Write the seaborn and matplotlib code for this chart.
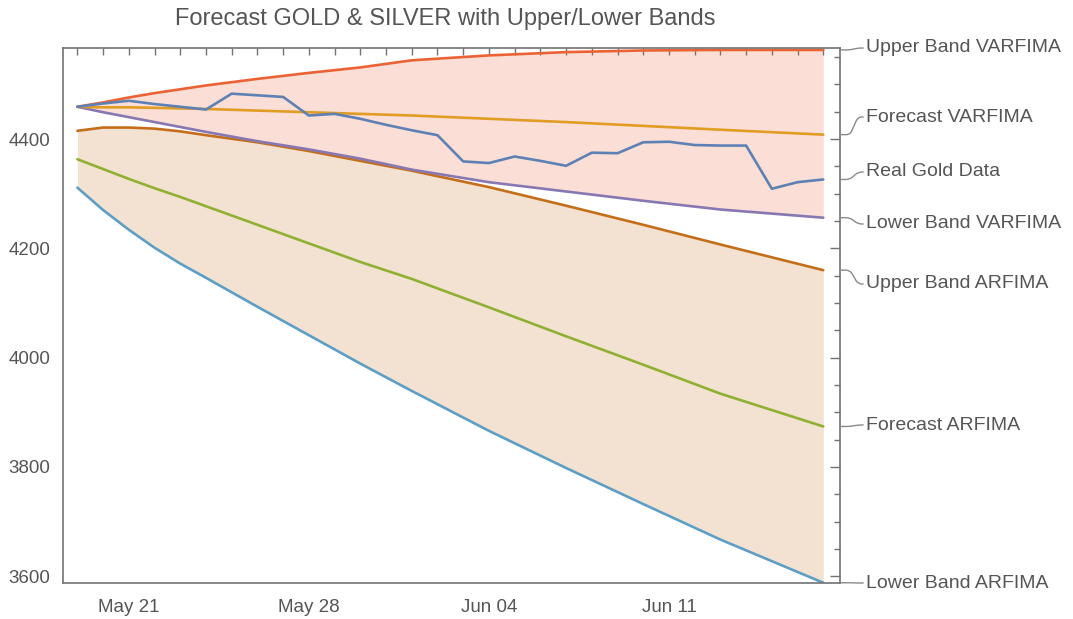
import numpy as np
import pandas as pd
import matplotlib
matplotlib.use("Agg")
import matplotlib.pyplot as plt
import matplotlib.dates as mdates
from matplotlib.ticker import MultipleLocator
import seaborn as sns

sns.set_theme(style="white")
plt.rcParams["font.family"] = ["Liberation Sans", "DejaVu Sans"]

# ---- data -------------------------------------------------------------
start = pd.Timestamp("2025-05-19")

gold_dates = pd.date_range(start, periods=30, freq="D")
gold_price = [4459, 4465, 4470, 4464, 4459, 4454, 4483, 4480, 4477, 4443,
              4446, 4437, 4426, 4416, 4407, 4359, 4356, 4368, 4360, 4351,
              4375, 4374, 4394, 4395, 4389, 4388, 4388, 4309, 4321, 4326]

model_day = [0, 1, 2, 3, 4, 5, 7, 9, 11, 13, 16, 19, 22, 25, 29]
upper_varfima = [4459, 4467, 4476, 4484, 4491, 4498, 4510, 4521, 4531, 4544,
                 4553, 4559, 4562, 4563, 4563]
forecast_varfima = [4459, 4458, 4458, 4457, 4456, 4455, 4452, 4449, 4446, 4443,
                    4437, 4431, 4424, 4417, 4408]
lower_varfima = [4459, 4449, 4440, 4431, 4422, 4413, 4396, 4381, 4364, 4344,
                 4321, 4304, 4287, 4271, 4256]
upper_arfima = [4415, 4421, 4421, 4419, 4414, 4407, 4394, 4378, 4360, 4342,
                4312, 4278, 4243, 4207, 4160]
forecast_arfima = [4363, 4345, 4327, 4310, 4294, 4277, 4243, 4209, 4175, 4144,
                   4092, 4039, 3987, 3934, 3874]
lower_arfima = [4311, 4270, 4234, 4201, 4172, 4146, 4093, 4041, 3989, 3939,
                3866, 3798, 3732, 3667, 3588]

model_dates = start + pd.to_timedelta(model_day, unit="D")

series = [
    ("Upper Band VARFIMA", model_dates, upper_varfima, "#EB6235"),
    ("Forecast VARFIMA", model_dates, forecast_varfima, "#E19C24"),
    ("Real Gold Data", gold_dates, gold_price, "#5E81B5"),
    ("Lower Band VARFIMA", model_dates, lower_varfima, "#8778B3"),
    ("Upper Band ARFIMA", model_dates, upper_arfima, "#C56E1A"),
    ("Forecast ARFIMA", model_dates, forecast_arfima, "#8FB032"),
    ("Lower Band ARFIMA", model_dates, lower_arfima, "#5D9EC7"),
]
label_y_px = [48, 117, 172, 224, 284, 425, 583]

# ---- figure -----------------------------------------------------------
W, H = 1073, 619
fig = plt.figure(figsize=(W / 100, H / 100), dpi=100)
ax = fig.add_axes([63 / W, 1 - 583.3 / H, (840 - 63) / W, (583.3 - 48.3) / H])

ax.fill_between(model_dates, lower_varfima, upper_varfima,
                color="#EB6235", alpha=0.2, lw=0)
ax.fill_between(model_dates, lower_arfima, upper_arfima,
                color="#C56E1A", alpha=0.2, lw=0)

draw_order = [4, 6, 5, 3, 0, 1, 2]
for i in draw_order:
    name, xs, ys, col = series[i]
    sns.lineplot(x=xs, y=ys, ax=ax, color=col, lw=1.9, legend=False)

x0 = mdates.date2num(start)
ax.set_xlim(x0 - 0.56, x0 + 29 + 0.65)
ax.set_ylim(3587, 4566)

ax.xaxis.set_major_locator(mdates.WeekdayLocator(byweekday=mdates.WE))
ax.xaxis.set_minor_locator(mdates.DayLocator())
ax.xaxis.set_major_formatter(mdates.DateFormatter("%b %d"))
ax.yaxis.set_major_locator(MultipleLocator(200))
ax.yaxis.set_minor_locator(MultipleLocator(50))

frame_col = "#727272"
text_col = "#555555"
for sp in ax.spines.values():
    sp.set_color(frame_col)
    sp.set_linewidth(1.2)
ax.tick_params(axis="both", which="both", direction="in", top=True, right=True,
               color=frame_col, width=1.0, labelcolor=text_col, labelsize=13.5)
ax.tick_params(axis="x", which="both", length=5, pad=11)
ax.tick_params(axis="y", which="major", length=7, pad=9)
ax.tick_params(axis="y", which="minor", length=4)
ax.set_xlabel("")
ax.set_ylabel("")
ax.grid(False)

fig.text(445 / W, 1 - 19 / H, "Forecast GOLD & SILVER with Upper/Lower Bands",
         ha="center", va="center", fontsize=17, color=text_col)

# right-hand callout labels
for (name, xs, ys, col), ty in zip(series, label_y_px):
    ax.annotate(name, xy=(1.0, ys[-1]), xycoords=("axes fraction", "data"),
                xytext=(866, H - ty), textcoords="figure pixels",
                ha="left", va="center", fontsize=14, color=text_col,
                annotation_clip=False,
                arrowprops=dict(arrowstyle="-", color="#8a8a8a", lw=1.0,
                                shrinkA=2, shrinkB=0, patchA=None,
                                relpos=(0, 0.5),
                                connectionstyle="arc,angleA=180,armA=8,angleB=0,armB=10,rad=4"))

fig.savefig("out.png", dpi=100)
